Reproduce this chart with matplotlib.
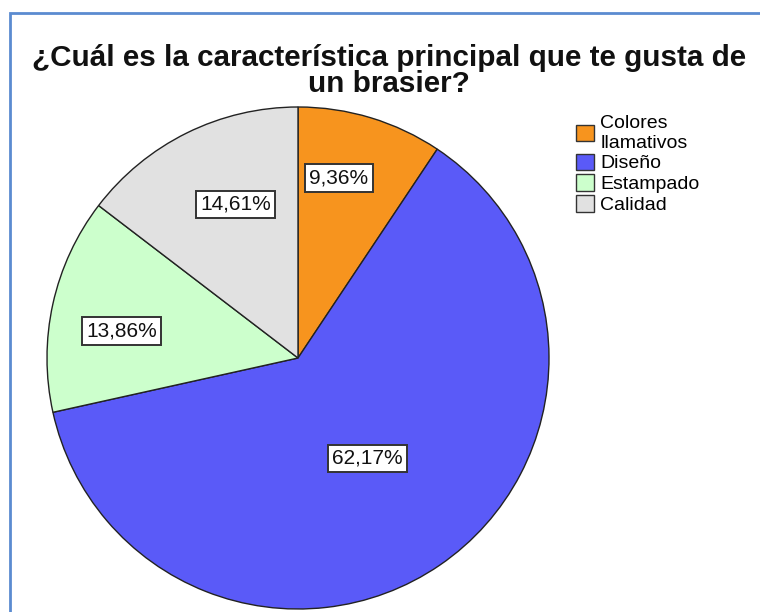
import matplotlib.pyplot as plt
import numpy as np
from matplotlib.patches import Patch

# Survey answers, clockwise from 12 o'clock
categories = ['Colores\nllamativos', 'Diseño', 'Estampado', 'Calidad']
percentages = [9.36, 62.17, 13.86, 14.61]
value_labels = ['9,36%', '62,17%', '13,86%', '14,61%']
colors = ['#F7941E', '#5A5AF8', '#CCFFCC', '#E1E1E1']

W, H = 760, 612
plt.rcParams['font.family'] = ['Liberation Sans', 'DejaVu Sans']

fig = plt.figure(figsize=(W / 100, H / 100), dpi=100)
ax = fig.add_axes([0, 0, 1, 1])

cx, cy, r = 298, H - 358, 251
wedges, _ = ax.pie(percentages, colors=colors, startangle=90, counterclock=False,
                   center=(cx, cy), radius=r, frame=True,
                   wedgeprops=dict(edgecolor='#222222', linewidth=1.0))
ax.set_xlim(0, W)
ax.set_ylim(0, H)
ax.set_aspect('equal')
ax.axis('off')

# value boxes: radial distance and small angle nudge from each wedge's mid angle
label_dist = [0.735, 0.485, 0.71, 0.66]
label_nudge = [4.0, 0.2, 3.7, -4.3]
for w, txt, d, da in zip(wedges, value_labels, label_dist, label_nudge):
    ang = np.deg2rad((w.theta1 + w.theta2) / 2 + da)
    x = cx + d * r * np.cos(ang)
    y = cy + d * r * np.sin(ang)
    ax.text(x, y, txt, ha='center', va='center', fontsize=15, color='#111111',
            bbox=dict(boxstyle='square,pad=0.2', facecolor='white',
                      edgecolor='#333333', linewidth=1.4))

ax.text(389, H - 71, '¿Cuál es la característica principal que te gusta de\nun brasier?',
        ha='center', va='center', fontsize=21.3, fontweight='bold',
        linespacing=0.92, color='#111111')

handles = [Patch(facecolor=c, edgecolor='#333333', linewidth=1.0) for c in colors]
ax.legend(handles, categories, loc='upper left', bbox_to_anchor=(576 / W, 1 - 115 / H),
          bbox_transform=fig.transFigure, frameon=False, fontsize=14,
          handlelength=0.95, handleheight=0.92, handletextpad=0.3,
          labelspacing=0.1, borderpad=0, borderaxespad=0)

# thin blue frame around the chart area
ax.plot([10, 10, W + 5], [-5, H - 13, H - 13], color='#5B8BD0', linewidth=2.0,
        solid_joinstyle='miter', clip_on=False)

fig.savefig('out.png', dpi=100)
